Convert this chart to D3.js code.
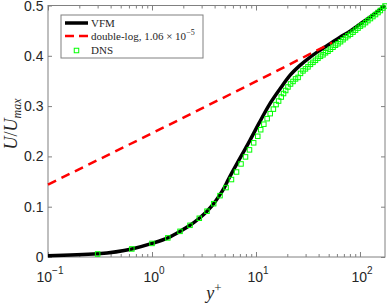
<!DOCTYPE html>
<html>
<head>
<meta charset="utf-8">
<script src="https://cdn.jsdelivr.net/npm/d3@7"></script>
<style>
  html, body { margin: 0; padding: 0; background: #fff; }
  svg { display: block; }
</style>
</head>
<body>
<div id="chart"></div>
<script>
// VFM solution (black solid)
var vfmY = [0.1, 0.30, 0.64, 1.0, 1.42, 1.86, 2.32, 2.85, 3.38, 3.92, 4.44, 4.96, 5.42, 7.13, 8.75,
            10.7, 13.1, 17.0, 21.2, 26.5, 33.0, 41.2, 51.5, 64.2, 80.2, 100, 125, 174];
var vfmU = [0.0026, 0.0064, 0.016, 0.027, 0.038, 0.051, 0.063, 0.077, 0.091, 0.106, 0.122, 0.138, 0.154, 0.199, 0.232,
            0.266, 0.299, 0.334, 0.361, 0.381, 0.397, 0.411, 0.424, 0.437, 0.449, 0.463, 0.477, 0.500];

// double-log law (red dashed)
var logY = [0.1, 1, 10, 54];
var logU = [0.144, 0.246, 0.349, 0.426];

// DNS (green squares)
var dnsY = [0.30, 0.64, 1.0, 1.42, 1.86, 2.32, 2.85, 3.38, 3.92, 4.51, 5.15, 5.81, 6.50, 7.18, 7.93, 8.66, 9.50,
            10.4, 11.1, 11.9, 12.8, 13.7, 14.7, 15.6, 16.5, 17.5, 18.4, 19.3,
            20.3, 21.5, 22.7, 24.0, 25.4, 26.8, 28.3, 29.9, 31.6, 33.4, 35.3, 37.3, 39.4, 41.7, 44.1, 46.6, 49.2, 52.0,
            55.0, 58.1, 61.4, 65.0, 68.7, 72.6, 76.7, 81.1, 85.7, 90.6, 95.7, 101, 107, 113, 119, 126, 133, 141, 149,
            157, 166, 174];
var dnsU = [0.006, 0.016, 0.027, 0.038, 0.051, 0.063, 0.077, 0.091, 0.106, 0.122, 0.138, 0.154, 0.169, 0.185, 0.199, 0.213, 0.227,
            0.240, 0.253, 0.264, 0.275, 0.285, 0.294, 0.303, 0.310, 0.318, 0.325, 0.331,
            0.338, 0.344, 0.349, 0.354, 0.357, 0.365, 0.370, 0.374, 0.378, 0.383, 0.387, 0.391, 0.395, 0.399, 0.402, 0.406, 0.409, 0.413,
            0.417, 0.421, 0.424, 0.428, 0.432, 0.436, 0.440, 0.443, 0.447, 0.451, 0.455, 0.459, 0.462, 0.466, 0.470, 0.474, 0.478, 0.482, 0.486,
            0.490, 0.495, 0.499];

var xTicks = [0.1, 1, 10, 100];
var xTickExp = ["-1", "0", "1", "2"];
var yTicks = [0, 0.1, 0.2, 0.3, 0.4, 0.5];
var yTickLabels = ["0", "0.1", "0.2", "0.3", "0.4", "0.5"];

var W = 387, H = 305;
var plotL = 48, plotR = 385, plotT = 5.5, plotB = 257;
var axisColor = "#808080", textColor = "#262626";
var sansFont = "'Liberation Sans', Arial, Helvetica, sans-serif";
var serifFont = "'Liberation Serif', 'Times New Roman', serif";

var svg = d3.select("#chart").append("svg")
    .attr("width", W)
    .attr("height", H);

var x = d3.scaleLog().domain([0.1, 174]).range([plotL, plotR]);
var y = d3.scaleLinear().domain([0, 0.5]).range([plotB, plotT]);

// minor ticks for the log axis
var minorTicks = [];
[0.1, 1, 10, 100].forEach(function(d) {
    for (var k = 2; k <= 9; k++) {
        if (d * k <= 174) minorTicks.push(d * k);
    }
});

function styleAxis(g) {
    g.select(".domain").remove();
    g.selectAll(".tick line").attr("stroke", axisColor).attr("stroke-width", 1);
    g.selectAll(".tick text").remove();
}

// bottom / top axes
svg.append("g").attr("transform", "translate(0," + plotB + ")")
    .call(d3.axisBottom(x).tickValues(xTicks).tickSize(-5).tickFormat(""))
    .call(styleAxis);
svg.append("g").attr("transform", "translate(0," + plotB + ")")
    .call(d3.axisBottom(x).tickValues(minorTicks).tickSize(-3).tickFormat(""))
    .call(styleAxis);
svg.append("g").attr("transform", "translate(0," + plotT + ")")
    .call(d3.axisTop(x).tickValues(xTicks).tickSize(-5).tickFormat(""))
    .call(styleAxis);
svg.append("g").attr("transform", "translate(0," + plotT + ")")
    .call(d3.axisTop(x).tickValues(minorTicks).tickSize(-3).tickFormat(""))
    .call(styleAxis);

// left / right axes
svg.append("g").attr("transform", "translate(" + plotL + ",0)")
    .call(d3.axisLeft(y).tickValues(yTicks).tickSize(-4).tickFormat(""))
    .call(styleAxis);
svg.append("g").attr("transform", "translate(" + plotR + ",0)")
    .call(d3.axisRight(y).tickValues(yTicks).tickSize(-4).tickFormat(""))
    .call(styleAxis);

// axes box
svg.append("rect")
    .attr("x", plotL).attr("y", plotT)
    .attr("width", plotR - plotL).attr("height", plotB - plotT)
    .attr("fill", "none")
    .attr("stroke", axisColor)
    .attr("stroke-width", 1);

// tick labels
xTicks.forEach(function(d, i) {
    var t = svg.append("text")
        .attr("x", x(d) + 2)
        .attr("y", 281.5)
        .attr("text-anchor", "middle")
        .attr("font-family", sansFont)
        .attr("font-size", 14)
        .attr("fill", textColor);
    t.append("tspan").text("10");
    t.append("tspan").attr("dy", -8).attr("font-size", 10).text(xTickExp[i].replace("-", "\u2212"));
});

yTicks.forEach(function(d, i) {
    svg.append("text")
        .attr("x", 43.5)
        .attr("y", y(d) + 5)
        .attr("text-anchor", "end")
        .attr("font-family", sansFont)
        .attr("font-size", 14)
        .attr("fill", textColor)
        .text(yTickLabels[i]);
});

// axis labels
var xl = svg.append("text")
    .attr("x", 214)
    .attr("y", 299)
    .attr("text-anchor", "middle")
    .attr("font-family", serifFont)
    .attr("font-style", "italic")
    .attr("font-size", 18)
    .attr("fill", textColor);
xl.append("tspan").text("y");
xl.append("tspan").attr("dy", -7).attr("font-size", 13).attr("font-style", "normal").text("+");

var yl = svg.append("text")
    .attr("transform", "translate(17,124) rotate(-90)")
    .attr("text-anchor", "middle")
    .attr("font-family", serifFont)
    .attr("font-style", "italic")
    .attr("font-size", 18)
    .attr("fill", textColor);
yl.append("tspan").text("U");
yl.append("tspan").attr("font-style", "normal").text("/");
yl.append("tspan").text("U");
yl.append("tspan").attr("dy", 4).attr("font-size", 12).text("max");

// data
var line = d3.line()
    .x(function(d) { return x(d[0]); })
    .y(function(d) { return y(d[1]); })
    .curve(d3.curveMonotoneX);

var vfm = vfmY.map(function(v, i) { return [v, vfmU[i]]; });
var dlog = logY.map(function(v, i) { return [v, logU[i]]; });
var dns = dnsY.map(function(v, i) { return [v, dnsU[i]]; });

svg.append("path")
    .datum(vfm)
    .attr("fill", "none")
    .attr("stroke", "#000")
    .attr("stroke-width", 3.5)
    .attr("d", line);

svg.append("path")
    .datum(dlog)
    .attr("fill", "none")
    .attr("stroke", "#ff0000")
    .attr("stroke-width", 2.5)
    .attr("stroke-dasharray", "9,6")
    .attr("d", d3.line().x(function(d) { return x(d[0]); }).y(function(d) { return y(d[1]); }));

var ms = 4.5;
svg.append("g").selectAll("rect")
    .data(dns)
    .enter().append("rect")
    .attr("x", function(d) { return x(d[0]) - ms / 2; })
    .attr("y", function(d) { return y(d[1]) - ms / 2; })
    .attr("width", ms)
    .attr("height", ms)
    .attr("fill", "none")
    .attr("stroke", "#00ff00")
    .attr("stroke-width", 1);

// legend
var lg = svg.append("g");
lg.append("rect")
    .attr("x", 61).attr("y", 15)
    .attr("width", 142).attr("height", 43)
    .attr("fill", "#fff")
    .attr("stroke", axisColor)
    .attr("stroke-width", 1);

lg.append("line")
    .attr("x1", 65).attr("x2", 88).attr("y1", 23).attr("y2", 23)
    .attr("stroke", "#000").attr("stroke-width", 3.5);
lg.append("line")
    .attr("x1", 65).attr("x2", 88).attr("y1", 36).attr("y2", 36)
    .attr("stroke", "#ff0000").attr("stroke-width", 2.5).attr("stroke-dasharray", "9,5");
lg.append("rect")
    .attr("x", 76.5 - ms / 2).attr("y", 50.5 - ms / 2)
    .attr("width", ms).attr("height", ms)
    .attr("fill", "none").attr("stroke", "#00ff00").attr("stroke-width", 1);

function legendText(yy) {
    return lg.append("text")
        .attr("x", 91)
        .attr("y", yy)
        .attr("font-family", serifFont)
        .attr("font-size", 11)
        .attr("fill", textColor);
}
legendText(27).text("VFM");
var t2 = legendText(40);
t2.append("tspan").text("double-log, 1.06 \u00d7 10");
t2.append("tspan").attr("dy", -5).attr("font-size", 8).text("\u22125");
legendText(54).text("DNS");
</script>
</body>
</html>
